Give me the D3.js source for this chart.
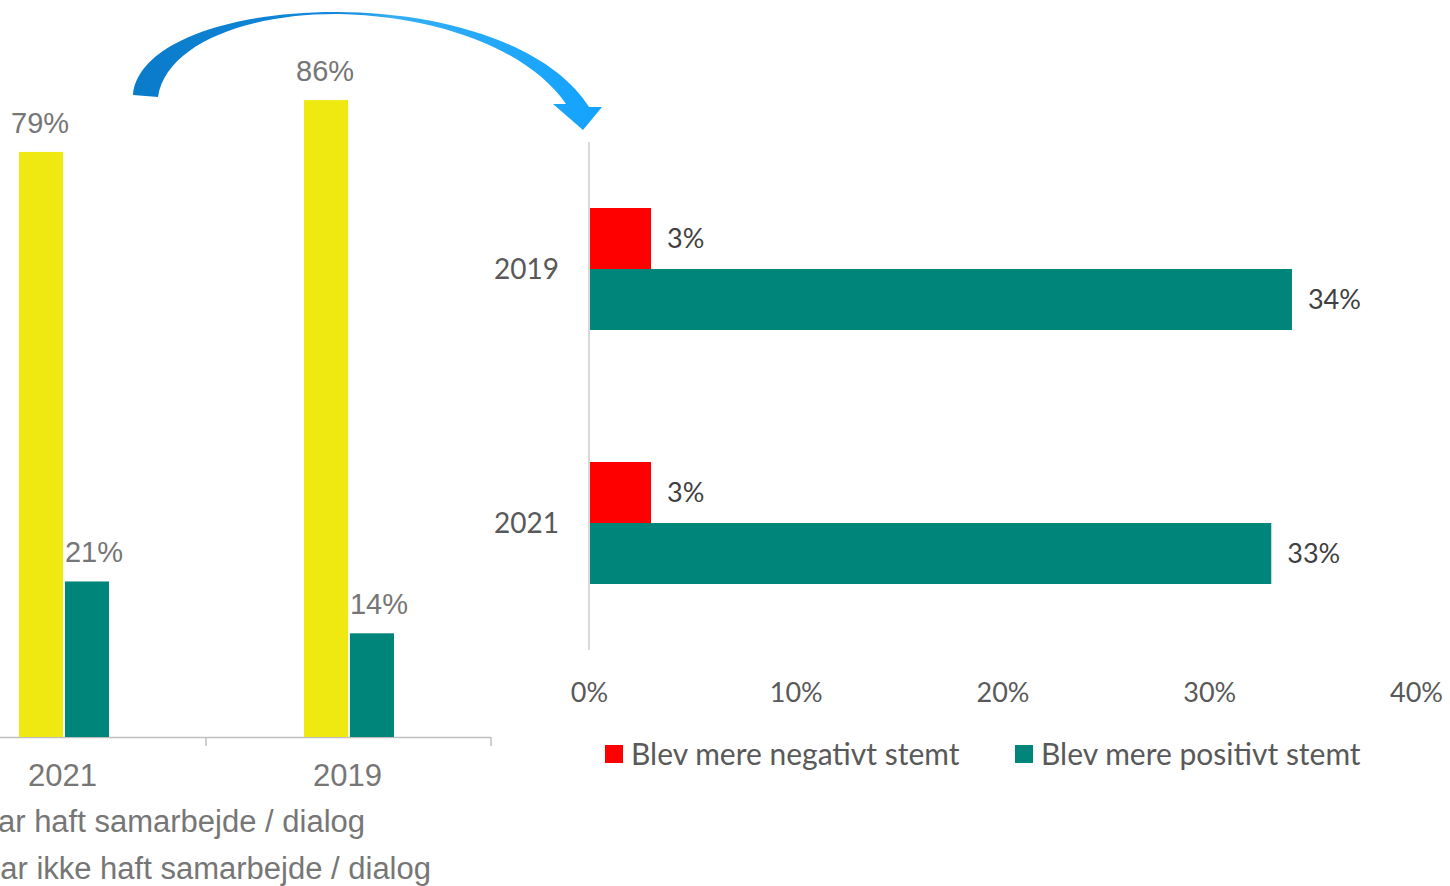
<!DOCTYPE html>
<html>
<head>
<meta charset="utf-8">
<script src="https://cdn.jsdelivr.net/npm/d3@7"></script>
<style>
  body { margin: 0; background: #fff; overflow: hidden; }
  svg { display: block; }
</style>
</head>
<body>
<div id="chart"></div>
<script>
// left chart: samarbejde / dialog
leftYears = ["2021", "2019"]
leftSeries = ["Har haft samarbejde / dialog", "Har ikke haft samarbejde / dialog"]
leftValues = [
  [0.79, 0.21],   // 2021
  [0.86, 0.14]    // 2019
]

// right chart: holdning
rightYears = ["2019", "2021"]
rightSeries = ["Blev mere negativt stemt", "Blev mere positivt stemt"]
rightValues = [
  [0.03, 0.34],   // 2019
  [0.03, 0.33]    // 2021
]
rightTicks = [0, 0.1, 0.2, 0.3, 0.4]

leftColors = ["#EFE811", "#00857A"]
rightColors = ["#FF0000", "#00857A"]

width = 1450
height = 886
pct = d3.format(".0%")

svg = d3.select("#chart").append("svg")
  .attr("width", width)
  .attr("height", height)

// ---------- left chart ----------
baseY = 737
lx = d3.scaleBand().domain(leftYears).range([-79, 491])
lxInner = d3.scaleBand().domain(leftSeries).range([0, 90]).paddingInner(0.04)
ly = d3.scaleLinear().domain([0, 1]).range([baseY, baseY - 740.6])

left = svg.append("g")

left.append("line")
  .attr("x1", 0).attr("x2", 491)
  .attr("y1", baseY + 0.5).attr("y2", baseY + 0.5)
  .attr("stroke", "#bfbfbf").attr("stroke-width", 1.5)

left.selectAll(".tick")
  .data(leftYears)
  .enter().append("line")
  .attr("x1", function(d) { return lx(d) + lx.bandwidth() })
  .attr("x2", function(d) { return lx(d) + lx.bandwidth() })
  .attr("y1", baseY).attr("y2", baseY + 9)
  .attr("stroke", "#bfbfbf").attr("stroke-width", 1.5)

groups = left.selectAll(".grp")
  .data(leftYears)
  .enter().append("g")
  .attr("transform", function(d) {
    return "translate(" + (lx(d) + lx.bandwidth() / 2 - 44.5) + ",0)"
  })

groups.selectAll("rect")
  .data(function(d, i) { return leftValues[i].map(function(v, j) { return {s: leftSeries[j], v: v, j: j} }) })
  .enter().append("rect")
  .attr("x", function(d) { return lxInner(d.s) })
  .attr("width", lxInner.bandwidth())
  .attr("y", function(d) { return ly(d.v) })
  .attr("height", function(d) { return baseY - ly(d.v) })
  .attr("fill", function(d) { return leftColors[d.j] })

groups.selectAll("text")
  .data(function(d, i) { return leftValues[i].map(function(v, j) { return {s: leftSeries[j], v: v, j: j} }) })
  .enter().append("text")
  .attr("x", function(d) { return lxInner(d.s) + lxInner.bandwidth() / 2 + (d.j ? 7 : -1) })
  .attr("y", function(d) { return ly(d.v) - 19 })
  .attr("text-anchor", "middle")
  .attr("font-family", "Liberation Sans, Arial, sans-serif")
  .attr("font-size", 29)
  .attr("fill", "#767676")
  .text(function(d) { return pct(d.v) })

left.selectAll(".xlab")
  .data(leftYears)
  .enter().append("text")
  .attr("x", function(d) { return lx(d) + lx.bandwidth() / 2 - 1 })
  .attr("y", 786)
  .attr("text-anchor", "middle")
  .attr("font-family", "Liberation Sans, Arial, sans-serif")
  .attr("font-size", 31)
  .attr("fill", "#767676")
  .text(function(d) { return d })

// legend, mostly cut off at the left edge
legL = left.selectAll(".leg")
  .data(leftSeries)
  .enter().append("g")
  .attr("transform", function(d, i) { return "translate(0," + (822 + i * 47) + ")" })

legL.append("text")
  .attr("x", function(d, i) { return i ? 431 : 365 })
  .attr("y", 10)
  .attr("text-anchor", "end")
  .attr("font-family", "Liberation Sans, Arial, sans-serif")
  .attr("font-size", 31)
  .attr("fill", "#767676")
  .text(function(d) { return d })

// ---------- arrow ----------
defs = svg.append("defs")
grad = defs.append("linearGradient")
  .attr("id", "arrowGrad")
  .attr("gradientUnits", "userSpaceOnUse")
  .attr("x1", 133).attr("y1", 0).attr("x2", 602).attr("y2", 0)
grad.append("stop").attr("offset", "0%").attr("stop-color", "#0a7bc9")
grad.append("stop").attr("offset", "45%").attr("stop-color", "#1189dd")
grad.append("stop").attr("offset", "55%").attr("stop-color", "#35aef5")
grad.append("stop").attr("offset", "100%").attr("stop-color", "#12a2fd")

svg.append("path")
  .attr("d", "M133,95 C138,42 232,12 335,12 C450,12 552,48 589,107 L602,107 L583,130 L553,104 L566,104 C530,52 445,17 340,14 C248,13 166,44 158,97 Z")
  .attr("fill", "url(#arrowGrad)")

// ---------- right chart ----------
x0 = 589
rx = d3.scaleLinear().domain([0, 0.4]).range([x0, 1416])
ry = d3.scaleBand().domain(rightYears).range([142, 650])
ryInner = d3.scaleBand().domain(rightSeries).range([0, 122])

right = svg.append("g")

rg = right.selectAll(".rgrp")
  .data(rightYears)
  .enter().append("g")
  .attr("transform", function(d) {
    return "translate(0," + (ry(d) + ry.bandwidth() / 2 - 61) + ")"
  })

rg.selectAll("rect")
  .data(function(d, i) { return rightValues[i].map(function(v, j) { return {s: rightSeries[j], v: v, j: j} }) })
  .enter().append("rect")
  .attr("x", rx(0))
  .attr("y", function(d) { return ryInner(d.s) })
  .attr("width", function(d) { return rx(d.v) - rx(0) })
  .attr("height", ryInner.bandwidth())
  .attr("fill", function(d) { return rightColors[d.j] })

rg.selectAll("text")
  .data(function(d, i) { return rightValues[i].map(function(v, j) { return {s: rightSeries[j], v: v, j: j} }) })
  .enter().append("text")
  .attr("x", function(d) { return rx(d.v) + 16 })
  .attr("y", function(d) { return ryInner(d.s) + ryInner.bandwidth() / 2 })
  .attr("dy", "0.35em")
  .attr("font-family", "Lato, sans-serif")
  .attr("font-size", 27)
  .attr("fill", "#404040")
  .text(function(d) { return pct(d.v) })

right.append("line")
  .attr("x1", x0).attr("x2", x0)
  .attr("y1", 142).attr("y2", 650)
  .attr("stroke", "#d9d9d9").attr("stroke-width", 2)

right.selectAll(".ylab")
  .data(rightYears)
  .enter().append("text")
  .attr("x", 559)
  .attr("y", function(d) { return ry(d) + ry.bandwidth() / 2 })
  .attr("dy", "0.35em")
  .attr("text-anchor", "end")
  .attr("font-family", "Lato, sans-serif")
  .attr("font-size", 28)
  .attr("fill", "#595959")
  .text(function(d) { return d })

xAxis = right.append("g")
  .attr("transform", "translate(0,680)")
  .call(d3.axisBottom(rx).tickValues(rightTicks).tickFormat(pct).tickSize(0))
xAxis.select(".domain").remove()
xAxis.selectAll("text")
  .attr("font-family", "Lato, sans-serif")
  .attr("font-size", 27)
  .attr("fill", "#595959")

legR = right.selectAll(".legr")
  .data(rightSeries)
  .enter().append("g")
  .attr("transform", function(d, i) { return "translate(" + (i ? 1015 : 605) + ",745)" })

legR.append("rect")
  .attr("width", 18).attr("height", 18)
  .attr("fill", function(d, i) { return rightColors[i] })

legR.append("text")
  .attr("x", 26)
  .attr("y", 9)
  .attr("dy", "0.35em")
  .attr("font-family", "Lato, sans-serif")
  .attr("font-size", 30)
  .attr("fill", "#595959")
  .text(function(d) { return d })
</script>
</body>
</html>
